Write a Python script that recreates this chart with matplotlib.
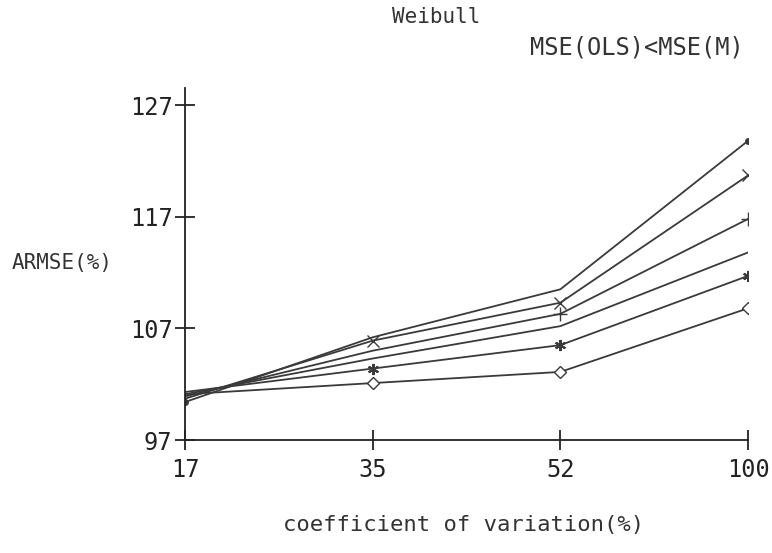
import numpy as np
import matplotlib.pyplot as plt

# data
cv_labels = ["17", "35", "52", "100"]
series_1 = [100.4, 106.2, 110.5, 123.8]   # filled dot
series_2 = [100.7, 105.9, 109.3, 120.7]   # x
series_3 = [100.9, 105.0, 108.3, 116.8]   # +
series_4 = [101.1, 104.3, 107.2, 113.8]   # no marker
series_5 = [101.3, 103.4, 105.5, 111.7]   # *
series_6 = [101.1, 102.1, 103.1, 108.8]   # diamond
y_ticks = [97, 107, 117, 127]

font = "DejaVu Sans Mono"
line_col = "#3a3a3a"

fig = plt.figure(figsize=(7.72, 5.53), dpi=100)
ax = fig.add_axes([0.2396, 0.2043, 0.7294, 0.636])

x = np.arange(len(cv_labels))
ax.plot(x, series_1, color=line_col, lw=1.3, marker="o", ms=4, markevery=[0, 3])
ax.plot(x, series_2, color=line_col, lw=1.3, marker="x", ms=8, mew=1, markevery=[1, 2, 3])
ax.plot(x, series_3, color=line_col, lw=1.3, marker="+", ms=10, mew=1, markevery=[2, 3])
ax.plot(x, series_4, color=line_col, lw=1.3)
ax.plot(x, series_5, color=line_col, lw=1.3, marker=(6, 2, 0), ms=8, mew=1.5, markevery=[1, 2, 3])
ax.plot(x, series_6, color=line_col, lw=1.3, marker="D", ms=6, mfc="white", mew=1, markevery=[1, 2, 3])

ax.set_xlim(0, 3)
ax.set_ylim(97, 128.5)
ax.set_xticks(x)
ax.set_xticklabels(cv_labels, fontfamily=font, fontsize=17)
ax.set_yticks(y_ticks)
ax.set_yticklabels([str(v) for v in y_ticks], fontfamily=font, fontsize=17)
ax.tick_params(direction="inout", length=14, width=1.3, colors="#222222", pad=2)
ax.tick_params(axis="x", pad=6)

for side in ["top", "right"]:
    ax.spines[side].set_visible(False)
for side in ["left", "bottom"]:
    ax.spines[side].set_linewidth(1.3)
    ax.spines[side].set_color("#222222")

fig.text(0.565, 0.97, "Weibull", ha="center", va="center", fontfamily=font, fontsize=15, color="#333333")
fig.text(0.825, 0.915, "MSE(OLS)<MSE(M)", ha="center", va="center", fontfamily=font, fontsize=17, color="#333333")
fig.text(0.08, 0.525, "ARMSE(%)", ha="center", va="center", fontfamily=font, fontsize=15, color="#333333")
fig.text(0.6, 0.05, "coefficient of variation(%)", ha="center", va="center", fontfamily=font, fontsize=16, color="#333333")

fig.savefig("out.png", dpi=100)
